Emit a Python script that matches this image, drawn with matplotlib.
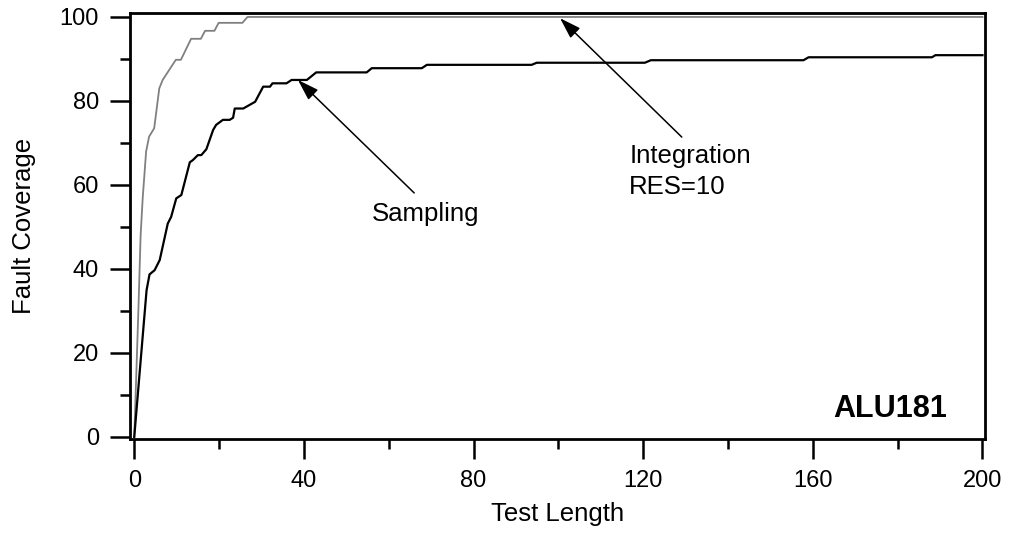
import matplotlib.pyplot as plt
from matplotlib.ticker import MultipleLocator

plt.rcParams['font.family'] = ['Liberation Sans', 'DejaVu Sans']

# Integration RES=10 curve (gray)
integ_x = [0, 1, 1.5, 2, 2.8, 3.5, 4.7, 5.9, 6.7, 9.8, 11.0, 13.4, 15.7, 16.7,
           18.9, 19.9, 25.5, 26.7, 200]
integ_y = [0, 31, 48, 57, 68, 71.5, 73.5, 83, 85, 89.8, 89.8, 94.8, 94.8, 96.7,
           96.7, 98.6, 98.6, 100, 100]

# Sampling curve (black)
samp_x = [0, 2.9, 3.6, 4.8, 6.0, 7.9, 8.7, 9.9, 11.1, 13.1, 13.8, 15.0, 15.8,
          17.0, 18.6, 19.3, 20.9, 22.5, 23.3, 23.7, 25.7, 28.5, 30.4, 32.0,
          32.6, 35.9, 37.1, 40.7, 42.9, 54.8, 56.0, 67.8, 69.0, 93.7, 94.9,
          120.4, 121.8, 157.8, 159.0, 188.1, 188.9, 200]
samp_y = [0, 34.9, 38.7, 39.7, 42.1, 50.8, 52.4, 56.8, 57.6, 65.4, 65.9, 67.1,
          67.1, 68.5, 73.1, 74.3, 75.5, 75.5, 76.0, 78.2, 78.2, 79.8, 83.4,
          83.4, 84.2, 84.2, 85.0, 85.0, 86.8, 86.8, 87.8, 87.8, 88.6, 88.6,
          89.1, 89.1, 89.7, 89.7, 90.4, 90.4, 90.9, 90.9]

fig = plt.figure(figsize=(10.11, 5.43), dpi=100)
ax = fig.add_axes([0.1286, 0.1915, 0.8457, 0.785])

ax.plot(integ_x, integ_y, color='#808080', lw=1.3)
ax.plot(samp_x, samp_y, color='black', lw=1.6)

ax.set_xlim(-1.0, 200.6)
ax.set_ylim(-0.5, 101.0)
ax.xaxis.set_major_locator(MultipleLocator(40))
ax.xaxis.set_minor_locator(MultipleLocator(20))
ax.yaxis.set_major_locator(MultipleLocator(20))
ax.yaxis.set_minor_locator(MultipleLocator(10))
ax.tick_params(which='major', direction='out', length=14.5, width=1.8,
               labelsize=17, pad=8)
ax.tick_params(which='minor', direction='out', length=7.2, width=1.8)
for s in ax.spines.values():
    s.set_linewidth(2)

ax.set_xlabel('Test Length', fontsize=18.5, labelpad=7)
ax.set_ylabel('Fault Coverage', fontsize=18.5, labelpad=17)

arrow = dict(arrowstyle='-|>,head_length=1.3,head_width=0.42',
             color='black', lw=1.1, shrinkA=0, shrinkB=0)
ax.annotate('', xy=(38.6, 85), xytext=(66.0, 58.1), arrowprops=arrow)
ax.text(68.8, 51.3, 'Sampling', fontsize=18.5, ha='center', va='baseline')
ax.annotate('', xy=(100.4, 99.7), xytext=(129.1, 71.4), arrowprops=arrow)
ax.text(116.7, 65.2, 'Integration', fontsize=18.5, ha='left', va='baseline')
ax.text(116.7, 57.9, 'RES=10', fontsize=18.5, ha='left', va='baseline')

ax.text(191.7, 4.8, 'ALU181', fontsize=22, fontweight='bold', ha='right',
        va='baseline')

fig.savefig('out.png', dpi=100)
